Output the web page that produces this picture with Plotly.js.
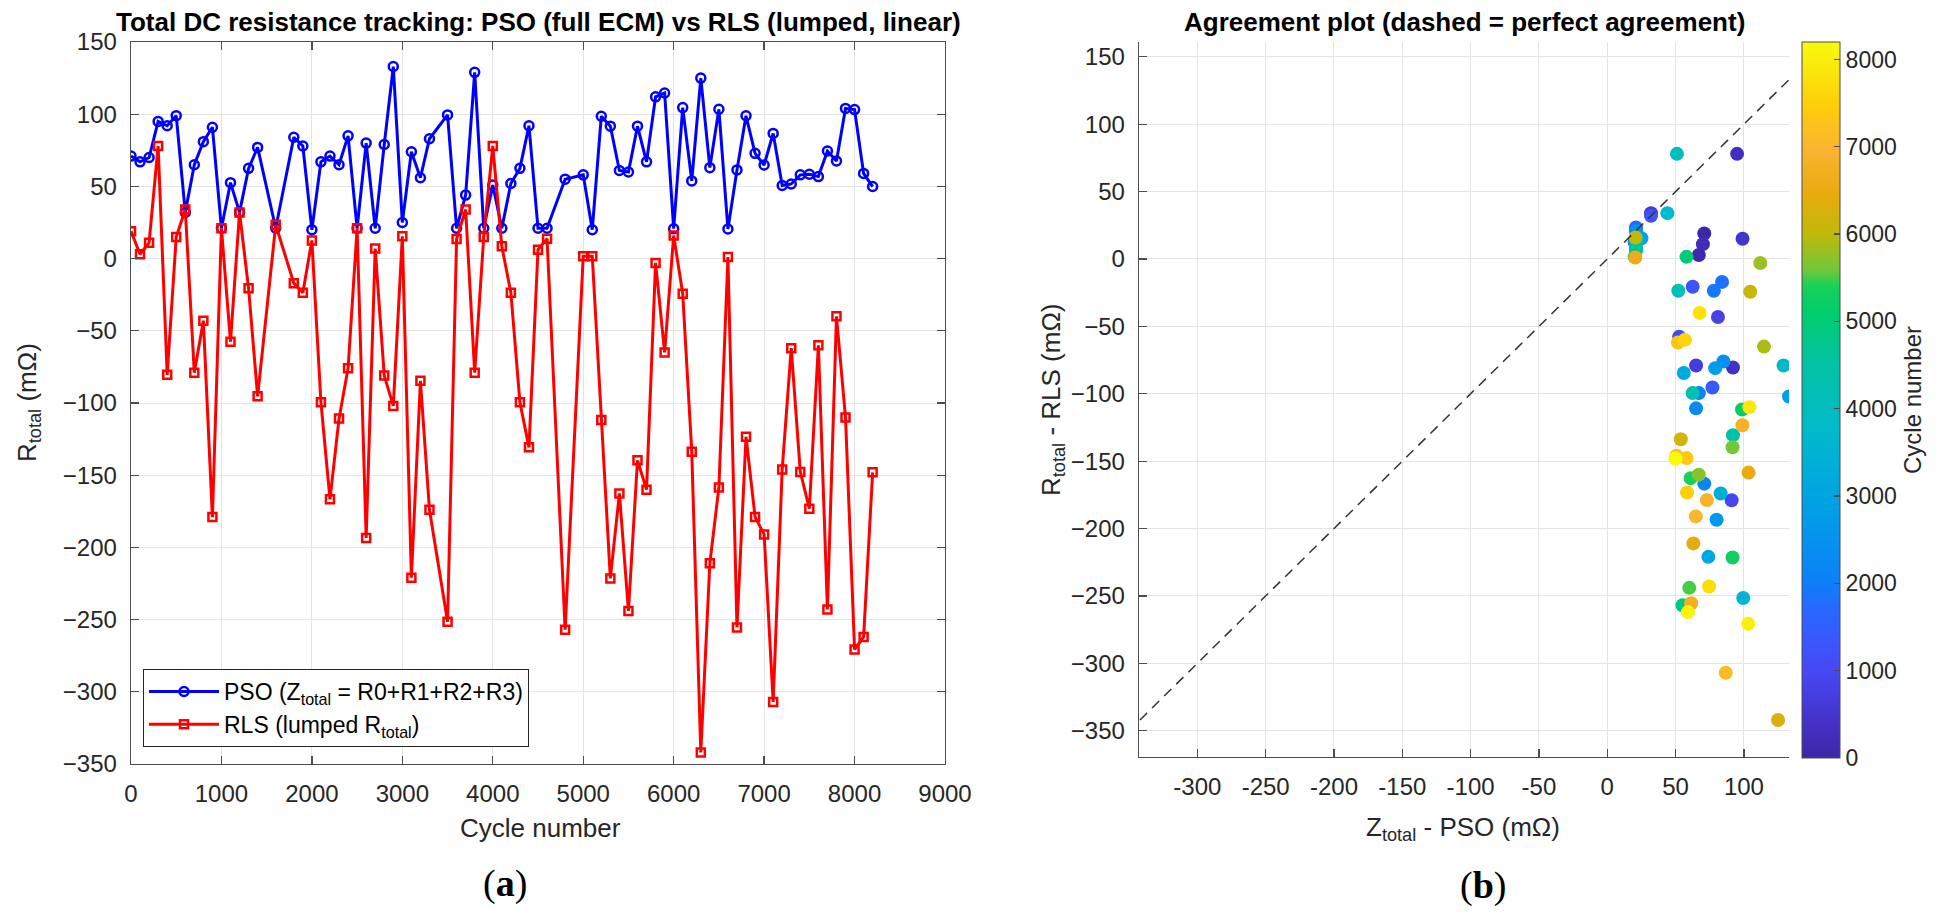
<!DOCTYPE html>
<html>
<head>
<meta charset="utf-8">
<script src="https://cdn.plot.ly/plotly-3.0.1.min.js"></script>
<style>
  html, body { margin: 0; padding: 0; background: #fff; }
  #paper { width: 1944px; height: 918px; }
</style>
</head>
<body>
<div id="paper"></div>
<script>
"use strict"

// cycle numbers (some are skipped in the record)
var cycles = [0, 100, 200, 300, 400, 500, 600, 700, 800, 900, 1000, 1100, 1200, 1300, 1400, 1600,
    1800, 1900, 2000, 2100, 2200, 2300, 2400, 2500, 2600, 2700, 2800, 2900, 3000, 3100, 3200, 3300,
    3500, 3600, 3700, 3800, 3900, 4000, 4100, 4200, 4300, 4400, 4500, 4600, 4800,
    5000, 5100, 5200, 5300, 5400, 5500, 5600, 5700, 5800, 5900, 6000, 6100, 6200, 6300, 6400, 6500,
    6600, 6700, 6800, 6900, 7000, 7100, 7200, 7300, 7400, 7500, 7600, 7700, 7800, 7900, 8000, 8100, 8200];

// PSO, Z_total = R0+R1+R2+R3 (mOhm)
var pso_total = [71, 67, 70, 95, 92, 99, 32, 65, 81, 91, 21, 52.6, 32, 62.5, 77, 21,
    84, 78, 20, 67, 71, 65, 85, 21, 80, 21, 79, 133, 25, 74, 56, 83,
    99.5, 21, 44, 129, 21, 51, 21, 52, 62.5, 92, 21, 21, 55,
    58, 20, 98.6, 91.7, 61, 60, 91.7, 67, 112, 114.7, 20.7, 104.6, 53.8, 125, 63, 103.4,
    20.5, 61.4, 98.9, 72.9, 64.8, 86.7, 50.6, 51.7, 58, 58.4, 56.8, 74.5, 67.6, 104, 103.2, 59, 49.9];

// RLS, lumped R_total (mOhm)
var rls_total = [19, 3, 11, 78, -80.5, 15, 34, -79, -43, -179, 21, -57.6, 32, -20.6, -95.4, 23.4,
    -17, -23.6, 12.6, -99.5, -166.7, -110.8, -76, 21, -193.5, 7, -81, -102, 15.4, -221, -84.6, -174,
    -251.5, 13.6, 34, -79, 15, 78, 8.5, -23.6, -99.5, -130.7, 6.2, 13.8, -257,
    1.6, 1.6, -111.7, -221.5, -162.6, -244, -139.7, -160, -3, -65, 16, -24.3, -133.7, -342, -211, -158.5,
    1.1, -255.4, -123.4, -178.9, -191, -307, -146, -62, -147.7, -173.2, -60, -243, -40, -110, -270.7, -262, -148];

var cycle_ticks = [0, 1000, 2000, 3000, 4000, 5000, 6000, 7000, 8000, 9000];
var agree_x_ticks = [-300, -250, -200, -150, -100, -50, 0, 50, 100];
var agree_x_labels = ["-300", "-250", "-200", "-150", "-100", "-50", "0", "50", "100"];
var colorbar_ticks = [0, 1000, 2000, 3000, 4000, 5000, 6000, 7000, 8000];

var PARULA = [
    [0.00, "rgb(62,38,168)"],
    [0.06, "rgb(68,52,205)"],
    [0.12, "rgb(72,72,245)"],
    [0.20, "rgb(45,100,255)"],
    [0.24, "rgb(15,125,250)"],
    [0.30, "rgb(5,145,240)"],
    [0.37, "rgb(0,165,225)"],
    [0.45, "rgb(0,185,205)"],
    [0.55, "rgb(0,195,165)"],
    [0.62, "rgb(0,205,110)"],
    [0.66, "rgb(25,208,88)"],
    [0.68, "rgb(110,200,60)"],
    [0.73, "rgb(190,185,10)"],
    [0.79, "rgb(235,170,15)"],
    [0.85, "rgb(250,180,50)"],
    [0.91, "rgb(255,205,10)"],
    [1.00, "rgb(248,250,12)"]
];

var FONT = "Liberation Sans, Arial, Helvetica, sans-serif";
var SERIF = "Liberation Serif, Times New Roman, serif";
var W = 1944, H = 918;

function px(x) { return x / W; }
function py(y) { return 1 - y / H; }

var lo = Math.min(Math.min.apply(null, pso_total), Math.min.apply(null, rls_total));
var hi = Math.max(Math.max.apply(null, pso_total), Math.max.apply(null, rls_total));

var dp = [
    {
        x: cycles, y: pso_total, type: "scatter", mode: "lines+markers",
        name: "PSO (Z<sub>total</sub> = R0+R1+R2+R3)",
        line: {color: "rgb(0,0,255)", width: 3},
        marker: {symbol: "circle-open", size: 9, color: "rgb(0,0,255)", line: {width: 2.5, color: "rgb(0,0,255)"}},
        xaxis: "x", yaxis: "y"
    },
    {
        x: cycles, y: rls_total, type: "scatter", mode: "lines+markers",
        name: "RLS (lumped R<sub>total</sub>)",
        line: {color: "rgb(255,0,0)", width: 3},
        marker: {symbol: "square-open", size: 8, color: "rgb(255,0,0)", line: {width: 2.5, color: "rgb(255,0,0)"}},
        xaxis: "x", yaxis: "y"
    },
    {
        x: pso_total, y: rls_total, type: "scatter", mode: "markers",
        showlegend: false, xaxis: "x2", yaxis: "y2",
        marker: {
            size: 14, color: cycles, colorscale: PARULA, cmin: 0, cmax: 8200,
            line: {width: 0},
            colorbar: {
                x: px(1802), xanchor: "left", xref: "paper",
                y: py(758), yanchor: "bottom", yref: "paper",
                len: 716 / H, lenmode: "fraction",
                thickness: 38, thicknessmode: "pixels",
                xpad: 0, ypad: 0,
                outlinecolor: "#4d4d4d", outlinewidth: 1,
                ticks: "inside", ticklen: 6, tickwidth: 1.3, tickcolor: "#4d4d4d",
                tickmode: "array", tickvals: colorbar_ticks,
                tickfont: {family: FONT, size: 23, color: "#262626"},
                title: {text: "Cycle number", side: "right", font: {family: FONT, size: 24, color: "#262626"}}
            }
        }
    },
    {
        x: [lo, hi], y: [lo, hi], type: "scatter", mode: "lines",
        showlegend: false, xaxis: "x2", yaxis: "y2", hoverinfo: "skip",
        line: {color: "#333333", width: 1.5, dash: "10px,7px"}
    }
];

var axis_style = {
    showline: true, linecolor: "#4d4d4d", linewidth: 1.3,
    ticks: "inside", ticklen: 8, tickwidth: 1.3, tickcolor: "#4d4d4d",
    showgrid: true, gridcolor: "#e4e4e4", gridwidth: 1,
    zeroline: false, ticklabelstandoff: 8,
    tickfont: {family: FONT, size: 24, color: "#262626"}
};

function ax(extra) {
    return Object.assign({}, axis_style, extra);
}

var layout = {
    width: W, height: H,
    margin: {l: 0, r: 0, t: 0, b: 0},
    paper_bgcolor: "#ffffff", plot_bgcolor: "#ffffff",
    font: {family: FONT, size: 23, color: "#262626"},
    xaxis: ax({domain: [px(131), px(945)], anchor: "y", range: [0, 9000],
        tickmode: "array", tickvals: cycle_ticks, mirror: "ticks"}),
    yaxis: ax({domain: [py(764), py(42)], anchor: "x", range: [-350, 150],
        dtick: 50, tick0: 0, mirror: "ticks"}),
    xaxis2: ax({domain: [px(1139), px(1789)], anchor: "y2", range: [-342.7, 133],
        tickmode: "array", tickvals: agree_x_ticks, ticktext: agree_x_labels}),
    yaxis2: ax({domain: [py(757), py(42)], anchor: "x2", range: [-369.5, 161],
        dtick: 50, tick0: 0}),
    showlegend: true,
    legend: {
        x: px(143), y: py(747), xanchor: "left", yanchor: "bottom",
        bgcolor: "#ffffff", bordercolor: "#262626", borderwidth: 1,
        font: {family: FONT, size: 23, color: "#000000"},
        itemwidth: 70, tracegroupgap: 0
    },
    annotations: [
        {text: "<b>Total DC resistance tracking: PSO (full ECM) vs RLS (lumped, linear)</b>",
            x: px(538), y: py(42), xref: "paper", yref: "paper", xanchor: "center", yanchor: "bottom",
            yshift: 3, showarrow: false, font: {family: FONT, size: 26, color: "#000000"}},
        {text: "<b>Agreement plot (dashed = perfect agreement)</b>",
            x: px(1464), y: py(42), xref: "paper", yref: "paper", xanchor: "center", yanchor: "bottom",
            yshift: 3, showarrow: false, font: {family: FONT, size: 26, color: "#000000"}},
        {text: "R<sub>total</sub> (mΩ)", textangle: -90,
            x: px(28), y: py(403), xref: "paper", yref: "paper", xanchor: "center", yanchor: "middle",
            showarrow: false, font: {family: FONT, size: 26, color: "#262626"}},
        {text: "R<sub>total</sub> - RLS (mΩ)", textangle: -90,
            x: px(1052), y: py(400), xref: "paper", yref: "paper", xanchor: "center", yanchor: "middle",
            showarrow: false, font: {family: FONT, size: 26, color: "#262626"}},
        {text: "Cycle number",
            x: px(540), y: py(828), xref: "paper", yref: "paper", xanchor: "center", yanchor: "middle",
            showarrow: false, font: {family: FONT, size: 26, color: "#262626"}},
        {text: "Z<sub>total</sub> - PSO (mΩ)",
            x: px(1463), y: py(828), xref: "paper", yref: "paper", xanchor: "center", yanchor: "middle",
            showarrow: false, font: {family: FONT, size: 26, color: "#262626"}},
        {text: "(<b>a</b>)",
            x: px(505), y: py(883), xref: "paper", yref: "paper", xanchor: "center", yanchor: "middle",
            showarrow: false, font: {family: SERIF, size: 38, color: "#000000"}},
        {text: "(<b>b</b>)",
            x: px(1483), y: py(885), xref: "paper", yref: "paper", xanchor: "center", yanchor: "middle",
            showarrow: false, font: {family: SERIF, size: 38, color: "#000000"}}
    ]
};

Plotly.newPlot("paper", dp, layout, {staticPlot: true, displayModeBar: false});
</script>
</body>
</html>
